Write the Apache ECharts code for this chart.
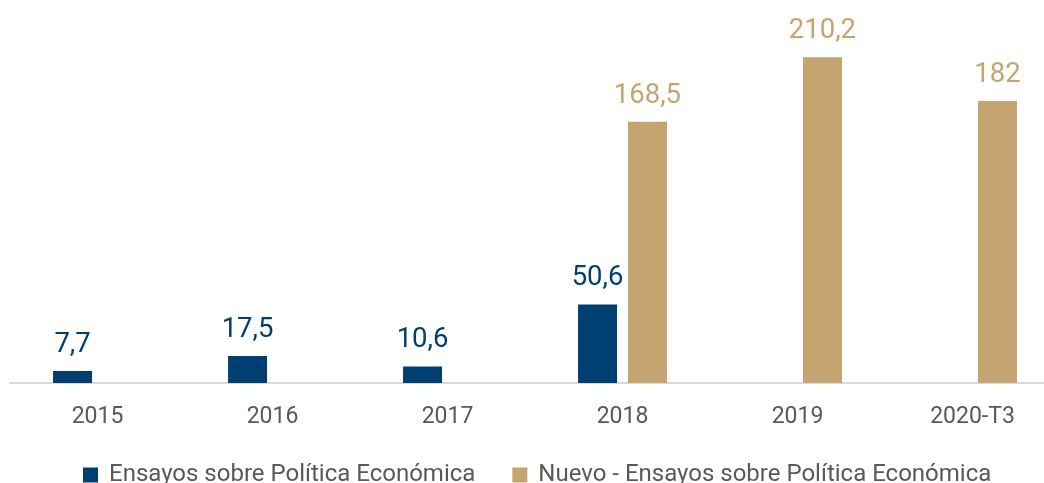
<!DOCTYPE html>
<html>
<head>
<meta charset="utf-8">
<script src="https://cdn.jsdelivr.net/npm/echarts@6/dist/echarts.min.js"></script>
<style>html,body{margin:0;padding:0;background:#fff;overflow:hidden;width:1044px;height:483px}#c{width:1060px;height:483px}</style>
</head>
<body>
<div id="c"></div>
<script>
const categories = ['2015', '2016', '2017', '2018', '2019', '2020-T3'];
const seriesNames = ['Ensayos sobre Política Económica', 'Nuevo - Ensayos sobre Política Económica'];
const espe = [7.7, 17.5, 10.6, 50.6, null, null];
const nuevoEspe = [null, null, null, 168.5, 210.2, 182];

const blue = '#003f72';
const gold = '#c4a570';
const fmt = p => String(p.value).replace('.', ',');

const chart = echarts.init(document.getElementById('c'));
chart.setOption({
  animation: false,
  textStyle: { fontFamily: 'Roboto' },
  grid: { left: 10, right: 0, top: 11, bottom: 100 },
  legend: {
    top: 463, left: 83, padding: 0,
    itemWidth: 15, itemHeight: 15, itemGap: 37,
    icon: 'rect',
    textStyle: { fontSize: 24, color: '#595959', fontFamily: 'Roboto', padding: [0, 0, 0, 6] },
    data: seriesNames
  },
  xAxis: {
    type: 'category',
    data: categories,
    axisLine: { lineStyle: { color: '#d9d9d9', width: 2 } },
    axisTick: { show: false },
    axisLabel: { fontSize: 23, color: '#595959', margin: 23 }
  },
  yAxis: { type: 'value', min: 0, max: 240, show: false, splitLine: { show: false } },
  series: [
    {
      name: seriesNames[0], type: 'bar', data: espe,
      barWidth: 39, barGap: '28%',
      itemStyle: { color: blue },
      label: { show: true, position: 'top', distance: 12, fontSize: 27.5, color: blue, formatter: fmt }
    },
    {
      name: seriesNames[1], type: 'bar', data: nuevoEspe,
      barWidth: 39,
      itemStyle: { color: gold },
      label: { show: true, position: 'top', distance: 12, fontSize: 27.5, color: gold, formatter: fmt }
    }
  ]
});
</script>
</body>
</html>
